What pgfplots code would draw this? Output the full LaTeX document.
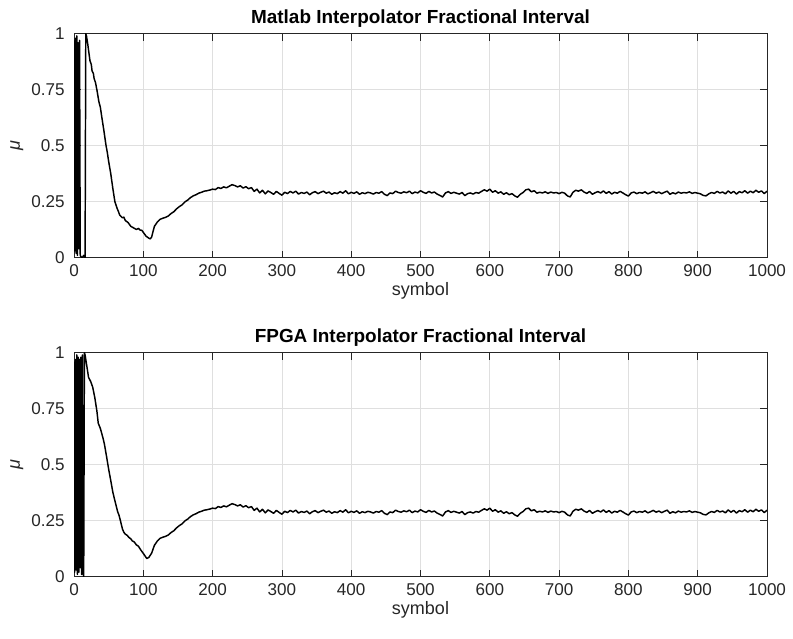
\documentclass[border=0pt]{standalone}
\usepackage{fontspec}
\setmainfont{Liberation Sans}
\usepackage{pgfplots}
\pgfplotsset{compat=1.18}
\usepackage{pgfplotstable}

\definecolor{axgray}{RGB}{38,38,38}
\definecolor{gridgray}{RGB}{223,223,223}

% start of the Matlab run (mu wraps between 0 and 1 at first)
\pgfplotstableread{
x y
0 0.97
1 0.03
2 0.98
3 0.02
4 0.99
5 0.01
6 0.96
7 0.04
8 0.97
9 0.01
10 0.005
12 0.0
14 0.01
16 0.0
17 1.0
18 0.99
20 0.95
23 0.88
25 0.862
26 0.835
28 0.822
29 0.80
31 0.782
33 0.75
36 0.695
38 0.672
40 0.63
43 0.57
46 0.505
48 0.471
50 0.43
53 0.376
56 0.31
59 0.25
62 0.222
64 0.207
66 0.19
68 0.184
70 0.178
72 0.181
74 0.166
78 0.157
82 0.14
86 0.133
90 0.126
93 0.131
95 0.124
98 0.122
100 0.113
104 0.096
108 0.087
110 0.084
112 0.092
}\tophead

% start of the FPGA run
\pgfplotstableread{
x y
0 0.96
1 0.02
2 0.97
3 0.03
4 0.99
5 0.01
6 0.98
7 0.02
8 0.97
9 0.04
10 0.98
11 0.01
12 0.99
13 0.02
14 0.0
15 1.0
16 0.99
18 0.95
21 0.89
24 0.872
27 0.846
30 0.80
33 0.74
35 0.685
38 0.662
40 0.64
42 0.617
44 0.59
47 0.536
50 0.48
53 0.43
56 0.378
58 0.352
60 0.327
63 0.29
65 0.274
67 0.25
70 0.212
72 0.198
74 0.19
77 0.184
79 0.176
82 0.169
84 0.16
87 0.155
90 0.142
93 0.136
96 0.121
100 0.104
105 0.081
108 0.086
112 0.105
}\bothead

% common part after the minimum
\pgfplotstableread{
x y
116 0.140
120 0.158
124 0.171
128 0.176
132 0.180
136 0.186
140 0.197
144 0.205
148 0.218
152 0.228
156 0.236
160 0.249
164 0.257
168 0.268
172 0.276
176 0.281
180 0.288
184 0.292
188 0.297
192 0.299
196 0.302
200 0.306
204 0.304
208 0.313
212 0.309
216 0.316
220 0.312
224 0.319
228 0.326
232 0.322
236 0.316
240 0.321
244 0.311
248 0.317
252 0.308
256 0.313
260 0.296
264 0.306
268 0.289
272 0.301
276 0.285
280 0.298
284 0.291
288 0.283
292 0.296
296 0.287
300 0.279
304 0.292
308 0.286
312 0.296
316 0.289
320 0.297
324 0.284
328 0.291
332 0.287
336 0.293
340 0.281
344 0.290
348 0.295
352 0.286
356 0.292
360 0.297
364 0.288
368 0.293
372 0.283
376 0.290
380 0.286
384 0.295
388 0.288
392 0.299
396 0.285
400 0.292
404 0.287
408 0.294
412 0.283
416 0.290
420 0.286
424 0.292
428 0.289
432 0.284
436 0.291
440 0.288
444 0.295
448 0.283
452 0.277
456 0.289
460 0.286
464 0.297
468 0.291
472 0.288
476 0.294
480 0.290
484 0.297
488 0.286
492 0.293
496 0.289
500 0.299
504 0.292
508 0.287
512 0.296
516 0.289
520 0.293
524 0.284
528 0.278
532 0.271
536 0.289
540 0.295
544 0.287
548 0.292
552 0.288
556 0.284
560 0.291
564 0.277
568 0.286
572 0.289
576 0.284
580 0.291
584 0.288
588 0.296
592 0.303
596 0.297
600 0.306
604 0.292
608 0.299
612 0.288
616 0.294
620 0.283
624 0.290
628 0.281
632 0.286
636 0.276
640 0.270
644 0.283
648 0.291
652 0.303
656 0.306
660 0.294
664 0.299
668 0.288
672 0.292
676 0.289
680 0.294
684 0.287
688 0.293
692 0.289
696 0.291
700 0.286
704 0.292
708 0.288
712 0.276
716 0.271
720 0.292
724 0.301
728 0.297
732 0.303
736 0.293
740 0.287
744 0.296
748 0.283
752 0.290
756 0.295
760 0.289
764 0.298
768 0.287
772 0.295
776 0.284
780 0.292
784 0.288
788 0.296
792 0.289
796 0.281
800 0.275
804 0.289
808 0.293
812 0.286
816 0.291
820 0.288
824 0.294
828 0.285
832 0.290
836 0.296
840 0.288
844 0.293
848 0.286
852 0.292
856 0.297
860 0.283
864 0.290
868 0.285
872 0.293
876 0.288
880 0.291
884 0.289
888 0.294
892 0.287
896 0.291
900 0.288
904 0.285
908 0.278
912 0.276
916 0.285
920 0.291
924 0.287
928 0.296
932 0.289
936 0.293
940 0.285
944 0.298
948 0.288
952 0.296
956 0.284
960 0.295
964 0.290
968 0.299
972 0.288
976 0.297
980 0.290
984 0.301
988 0.292
992 0.298
996 0.286
1000 0.297
}\tailtable

\pgfplotstablevertcat{\tophead}{\tailtable}
\pgfplotstablevertcat{\bothead}{\tailtable}

\pgfplotsset{
  muaxis/.style={
    scale only axis, width=519.75bp, height=168bp,
    xmin=0, xmax=1000, ymin=0, ymax=1,
    xtick={0,100,...,1000}, ytick={0,0.25,0.5,0.75,1},
    grid=major, major grid style={gridgray, line width=0.5bp},
    axis line style={axgray, line width=0.6bp},
    tick style={axgray, line width=0.6bp},
    tick align=inside, major tick length=5.2bp,
    xtick pos=both, ytick pos=both,
    xticklabel pos=lower, yticklabel pos=left,
    /pgf/number format/assume math mode=true,
    /pgf/number format/1000 sep={},
    tick label style={font=\fontsize{12.8bp}{15bp}\selectfont, text=axgray},
    yticklabel style={anchor=east, inner sep=0pt, xshift=-6.8bp},
    xticklabel style={anchor=north, inner sep=0pt, yshift=-4.8bp},
    every axis title/.style={at={(axis description cs:0.5,1)}, anchor=base, yshift=7.5bp,
      font=\fontsize{14.2bp}{17bp}\selectfont\bfseries, text=black},
    every axis x label/.style={at={(axis description cs:0.5,0)}, anchor=base, yshift=-28.5bp,
      font=\fontsize{13.5bp}{16bp}\selectfont, text=axgray},
    every axis y label/.style={at={(axis description cs:-0.078,0.5)}, anchor=base, rotate=90,
      font=\fontsize{13.5bp}{16bp}\selectfont\itshape, text=axgray},
    xlabel={symbol}, ylabel={μ},
  }
}

\begin{document}
\begin{tikzpicture}
\useasboundingbox (0,0) rectangle (594.75bp,479.25bp);

\begin{axis}[muaxis, at={(55.5bp,285.98bp)}, anchor=south west,
  title={Matlab Interpolator Fractional Interval}]
\addplot[black, line width=1.1bp, line join=round] table[x=x, y=y] {\tophead};
\end{axis}

\begin{axis}[muaxis, at={(55.5bp,46.73bp)}, anchor=south west,
  title={FPGA Interpolator Fractional Interval}]
\addplot[black, line width=1.1bp, line join=round] table[x=x, y=y] {\bothead};
\end{axis}
\end{tikzpicture}
\end{document}
